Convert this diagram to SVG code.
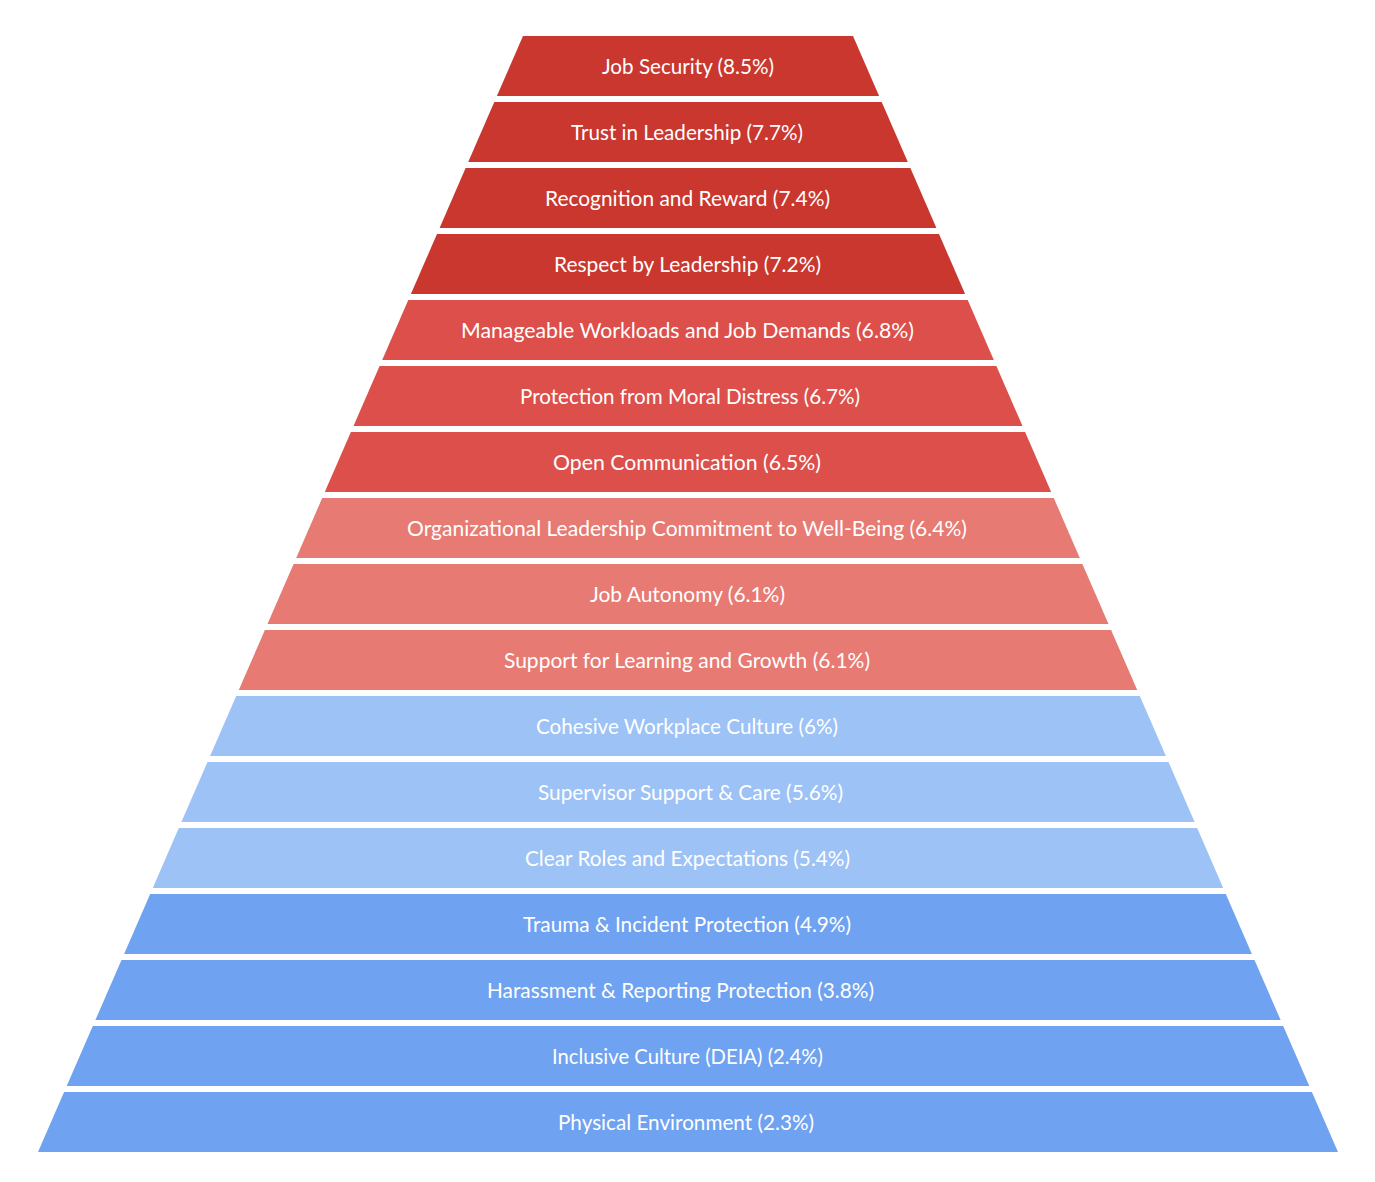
<svg xmlns="http://www.w3.org/2000/svg" width="1375" height="1182" viewBox="0 0 1375 1182">
<style>
.t{font-family:Lato,"Open Sans","Liberation Sans",sans-serif;font-size:22px;fill:#ffffff;text-anchor:middle}
.c1{fill:#C9372F}.c2{fill:#DC4F4A}.c3{fill:#E77A73}.c4{fill:#9DC2F6}.c5{fill:#6FA2F0}
</style>
<rect width="1375" height="1182" fill="#ffffff"/>
<g id="band1"><polygon class="c1" points="523,36 853,36 879.1,96 496.9,96"/><text class="t" x="688" y="73.5" textLength="172" lengthAdjust="spacingAndGlyphs">Job Security (8.5%)</text></g>
<g id="band2"><polygon class="c1" points="494.3,102 881.7,102 907.8,162 468.2,162"/><text class="t" x="687" y="139.5" textLength="232" lengthAdjust="spacingAndGlyphs">Trust in Leadership (7.7%)</text></g>
<g id="band3"><polygon class="c1" points="465.6,168 910.4,168 936.4,228 439.6,228"/><text class="t" x="687.5" y="205.5" textLength="285" lengthAdjust="spacingAndGlyphs">Recognition and Reward (7.4%)</text></g>
<g id="band4"><polygon class="c1" points="437,234 939,234 965.1,294 410.9,294"/><text class="t" x="687.5" y="271.5" textLength="267" lengthAdjust="spacingAndGlyphs">Respect by Leadership (7.2%)</text></g>
<g id="band5"><polygon class="c2" points="408.3,300 967.7,300 993.8,360 382.2,360"/><text class="t" x="687.5" y="337.5" textLength="453" lengthAdjust="spacingAndGlyphs">Manageable Workloads and Job Demands (6.8%)</text></g>
<g id="band6"><polygon class="c2" points="379.6,366 996.4,366 1022.5,426 353.5,426"/><text class="t" x="690" y="403.5" textLength="340" lengthAdjust="spacingAndGlyphs">Protection from Moral Distress (6.7%)</text></g>
<g id="band7"><polygon class="c2" points="350.9,432 1025.1,432 1051.2,492 324.8,492"/><text class="t" x="687" y="469.5" textLength="268" lengthAdjust="spacingAndGlyphs">Open Communication (6.5%)</text></g>
<g id="band8"><polygon class="c3" points="322.2,498 1053.8,498 1079.8,558 296.2,558"/><text class="t" x="687" y="535.5" textLength="560" lengthAdjust="spacingAndGlyphs">Organizational Leadership Commitment to Well-Being (6.4%)</text></g>
<g id="band9"><polygon class="c3" points="293.6,564 1082.4,564 1108.5,624 267.5,624"/><text class="t" x="687.5" y="601.5" textLength="195" lengthAdjust="spacingAndGlyphs">Job Autonomy (6.1%)</text></g>
<g id="band10"><polygon class="c3" points="264.9,630 1111.1,630 1137.2,690 238.8,690"/><text class="t" x="687" y="667.5" textLength="366" lengthAdjust="spacingAndGlyphs">Support for Learning and Growth (6.1%)</text></g>
<g id="band11"><polygon class="c4" points="236.2,696 1139.8,696 1165.9,756 210.1,756"/><text class="t" x="687" y="733.5" textLength="302" lengthAdjust="spacingAndGlyphs">Cohesive Workplace Culture (6%)</text></g>
<g id="band12"><polygon class="c4" points="207.5,762 1168.5,762 1194.6,822 181.4,822"/><text class="t" x="690.5" y="799.5" textLength="305" lengthAdjust="spacingAndGlyphs">Supervisor Support &amp; Care (5.6%)</text></g>
<g id="band13"><polygon class="c4" points="178.8,828 1197.2,828 1223.2,888 152.8,888"/><text class="t" x="687.5" y="865.5" textLength="325" lengthAdjust="spacingAndGlyphs">Clear Roles and Expectations (5.4%)</text></g>
<g id="band14"><polygon class="c5" points="150.2,894 1225.8,894 1251.9,954 124.1,954"/><text class="t" x="687" y="931.5" textLength="328" lengthAdjust="spacingAndGlyphs">Trauma &amp; Incident Protection (4.9%)</text></g>
<g id="band15"><polygon class="c5" points="121.5,960 1254.5,960 1280.6,1020 95.4,1020"/><text class="t" x="680.5" y="997.5" textLength="387" lengthAdjust="spacingAndGlyphs">Harassment &amp; Reporting Protection (3.8%)</text></g>
<g id="band16"><polygon class="c5" points="92.8,1026 1283.2,1026 1309.3,1086 66.7,1086"/><text class="t" x="687.5" y="1063.5" textLength="271" lengthAdjust="spacingAndGlyphs">Inclusive Culture (DEIA) (2.4%)</text></g>
<g id="band17"><polygon class="c5" points="64.1,1092 1311.9,1092 1338,1152 38,1152"/><text class="t" x="686" y="1129.5" textLength="256" lengthAdjust="spacingAndGlyphs">Physical Environment (2.3%)</text></g>
<g id="connectors"></g>
</svg>
